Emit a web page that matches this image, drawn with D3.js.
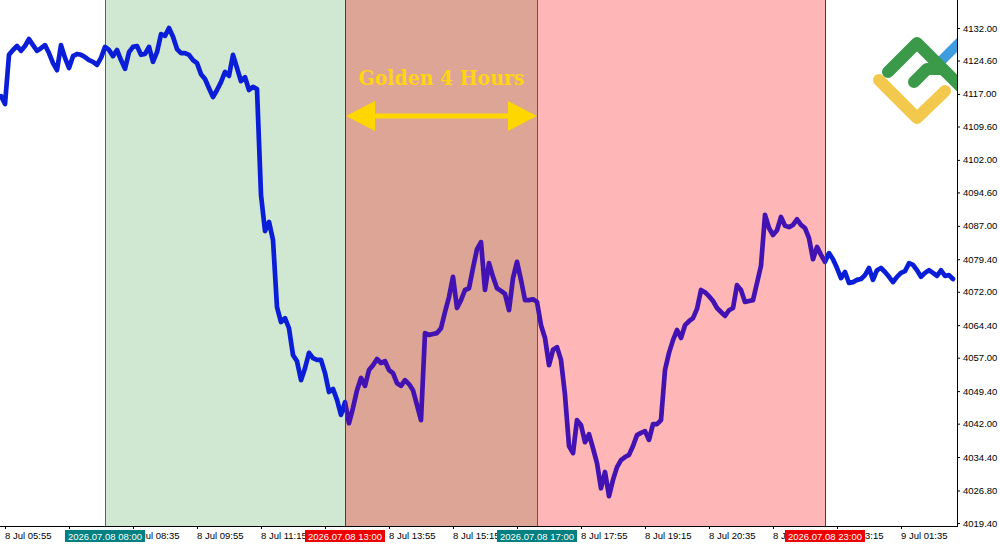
<!DOCTYPE html>
<html><head><meta charset="utf-8">
<script src="https://cdn.jsdelivr.net/npm/d3@7"></script>
<style>html,body{margin:0;padding:0;background:#fff;} svg{display:block;}</style>
</head><body><svg id="chart" width="1000" height="545"></svg>
<script>
// ---- data (M5 closes, bar index -1 = 8 Jul 05:50) ----
const firstBarIndex = -1;
const closes = [
4116.5,4114.7,4125.9,4127.0,4127.9,4126.8,4127.9,4129.5,4128.1,4126.8,
4127.4,4128.1,4126.3,4124.0,4122.4,4128.1,4125.2,4122.9,4125.6,4126.1,
4125.9,4125.4,4124.7,4124.3,4123.6,4125.2,4127.7,4127.0,4125.6,4127.0,
4124.7,4122.7,4126.5,4127.7,4127.9,4125.9,4126.1,4127.7,4124.3,4126.5,
4130.6,4130.2,4132.0,4130.0,4127.2,4126.3,4126.3,4125.9,4124.7,4124.0,
4121.5,4120.4,4118.3,4116.3,4117.9,4119.7,4122.0,4121.1,4125.9,4122.9,
4119.9,4120.8,4117.9,4118.6,4118.1,4094.0,4085.8,4087.9,4083.8,4068.5,
4065.1,4066.0,4063.7,4057.6,4056.2,4051.9,4054.6,4058.1,4056.9,4056.5,
4056.5,4053.5,4049.2,4049.9,4047.4,4044.0,4046.9,4042.1,4045.6,4049.6,
4052.4,4050.6,4054.2,4055.3,4056.7,4055.8,4056.2,4054.2,4053.5,4051.2,
4050.6,4051.9,4051.0,4049.6,4046.2,4042.8,4062.6,4062.2,4062.4,4062.6,
4063.7,4067.4,4070.8,4075.4,4068.3,4070.1,4072.4,4072.8,4077.4,4081.7,
4083.3,4072.4,4078.5,4075.4,4072.8,4072.2,4071.5,4067.8,4075.1,4078.8,
4074.7,4070.1,4070.1,4070.3,4069.7,4064.4,4061.5,4055.3,4058.8,4059.4,
4056.5,4048.5,4036.9,4035.3,4042.8,4041.7,4037.8,4039.6,4036.4,4033.0,
4027.3,4031.0,4025.5,4029.2,4032.1,4033.7,4034.4,4034.9,4036.9,4039.4,
4039.9,4040.3,4038.3,4041.9,4041.9,4042.8,4054.2,4058.1,4061.0,4063.3,
4061.5,4064.4,4065.3,4066.0,4068.1,4072.4,4071.9,4071.0,4069.9,4068.3,
4067.4,4066.5,4067.8,4068.3,4073.5,4072.4,4069.7,4069.9,4070.1,4074.0,
4077.9,4089.5,4086.5,4084.9,4086.0,4089.0,4087.0,4086.7,4087.2,4088.5,
4087.2,4086.5,4084.2,4079.4,4082.2,4080.4,4078.8,4080.8,4079.4,4077.4,
4075.1,4076.5,4074.0,4074.2,4074.7,4074.9,4075.8,4077.4,4074.7,4076.9,
4077.4,4076.5,4075.4,4074.2,4075.4,4076.3,4076.7,4078.5,4078.1,4076.9,
4075.4,4076.3,4076.9,4076.3,4075.6,4076.9,4075.6,4075.8,4074.9
];
const tickIndex = [0,16,32,48,64,80,96,112,128,144,160,176,192,208,224];
const tickLabels = ["8 Jul 05:55","8 Jul 07:15","8 Jul 08:35","8 Jul 09:55","8 Jul 11:15",
  "8 Jul 12:35","8 Jul 13:55","8 Jul 15:15","8 Jul 16:35","8 Jul 17:55","8 Jul 19:15",
  "8 Jul 20:35","8 Jul 21:55","8 Jul 23:15","9 Jul 01:35"];
const yTicks = [4132.00,4124.60,4117.00,4109.60,4102.00,4094.60,4087.00,4079.40,
  4072.00,4064.40,4057.00,4049.40,4042.00,4034.40,4026.80,4019.40];
const eventIndex = [25,85,133,205];
const eventLabels = ["2026.07.08 08:00","2026.07.08 13:00","2026.07.08 17:00","2026.07.08 23:00"];
const eventColors = ["#008080","#ee0000","#008080","#ee0000"];
const greenSession = [25,133];
const redSession = [85,205];
const goldenWindow = [85,133];
const annotation = "Golden 4 Hours";

// ---- layout ----
const W = 1000, H = 545, plotR = 957, plotB = 526;
const svg = d3.select("#chart");
const x = d3.scaleLinear().domain([0, 237]).range([5, 953]);
const y = d3.scaleLinear().domain([4019.4, 4132]).range([523, 28]);
const data = closes.map((v,i)=>({k:i+firstBarIndex, v}));

svg.append("rect").attr("width",W).attr("height",H).attr("fill","#fff");
const defs = svg.append("defs");
defs.append("clipPath").attr("id","plot").append("rect").attr("x",0).attr("y",0).attr("width",plotR).attr("height",plotB);
defs.append("clipPath").attr("id","inside").append("rect").attr("x",x(redSession[0])).attr("y",0).attr("width",x(redSession[1])-x(redSession[0])).attr("height",plotB);
const outClip = defs.append("clipPath").attr("id","outside");
outClip.append("rect").attr("x",0).attr("y",0).attr("width",x(redSession[0])).attr("height",plotB);
outClip.append("rect").attr("x",x(redSession[1])).attr("y",0).attr("width",plotR-x(redSession[1])).attr("height",plotB);

const g = svg.append("g").attr("clip-path","url(#plot)");
// green session
g.append("rect").attr("x",x(greenSession[0])).attr("y",0)
  .attr("width",x(greenSession[1])-x(greenSession[0])).attr("height",plotB).attr("fill","#d0e7d2");
greenSession.forEach(k=>{
  g.append("line").attr("x1",x(k)+0.5).attr("x2",x(k)+0.5).attr("y1",0).attr("y2",plotB)
   .attr("stroke","#2a7a62").attr("stroke-width",1);
});
// red session overlay
g.append("rect").attr("x",x(redSession[0])).attr("y",0)
  .attr("width",x(redSession[1])-x(redSession[0])).attr("height",plotB).attr("fill","rgba(255,0,0,0.286)");

const line = d3.line().x(d=>x(d.k)).y(d=>y(d.v));
g.append("path").datum(data).attr("d",line).attr("fill","none").attr("stroke","#0a1ed8")
  .attr("stroke-width",4.7).attr("stroke-linejoin","round").attr("stroke-linecap","round")
  .attr("clip-path","url(#outside)");
g.append("path").datum(data).attr("d",line).attr("fill","none").attr("stroke","#4212b2")
  .attr("stroke-width",4.7).attr("stroke-linejoin","round").attr("stroke-linecap","round")
  .attr("clip-path","url(#inside)");

redSession.forEach(k=>{
  g.append("line").attr("x1",x(k)+0.5).attr("x2",x(k)+0.5).attr("y1",0).attr("y2",plotB)
   .attr("stroke","#d80000").attr("stroke-width",1);
});

// annotation
const gold = "#ffd700";
const ax0 = x(goldenWindow[0])+1, ax1 = x(goldenWindow[1]);
const cx = (ax0+ax1)/2;
g.append("text").attr("x",cx).attr("y",84.5).attr("text-anchor","middle")
  .attr("font-family","'DejaVu Serif', serif").attr("font-weight","bold").attr("font-size",20)
  .attr("textLength",166).attr("lengthAdjust","spacingAndGlyphs")
  .attr("fill","#ffd414").text(annotation);
const ay = 116, hl = 29, hh = 15;
g.append("line").attr("x1",ax0+hl-2).attr("x2",ax1-hl+2).attr("y1",ay).attr("y2",ay)
  .attr("stroke",gold).attr("stroke-width",5);
g.append("path").attr("d",`M${ax0},${ay}L${ax0+hl},${ay-hh}L${ax0+hl},${ay+hh}Z`).attr("fill",gold);
g.append("path").attr("d",`M${ax1},${ay}L${ax1-hl},${ay-hh}L${ax1-hl},${ay+hh}Z`).attr("fill",gold);

// logo
const logo = g.append("g").attr("fill","none").attr("stroke-linecap","round").attr("stroke-linejoin","round");
logo.append("path").attr("d","M935,67L962,40").attr("stroke","#3f9ce0").attr("stroke-width",10);
logo.append("path").attr("d","M888,72L917,43L960,86").attr("stroke","#3b9a4a").attr("stroke-width",12);
logo.append("path").attr("d","M914,82L927,69L942,69").attr("stroke","#3b9a4a").attr("stroke-width",12);
logo.append("path").attr("d","M879,80L917,118L945,91").attr("stroke","#f2c94c").attr("stroke-width",12);

// axes
const font = "'Liberation Sans', Arial, sans-serif";
svg.append("line").attr("x1",plotR+0.5).attr("x2",plotR+0.5).attr("y1",0).attr("y2",plotB+1).attr("stroke","#000");
svg.append("line").attr("x1",0).attr("x2",plotR+1).attr("y1",plotB+0.5).attr("y2",plotB+0.5).attr("stroke","#000");

const yAxis = svg.append("g").attr("transform",`translate(${plotR},0)`)
  .call(d3.axisRight(y).tickValues(yTicks).tickFormat(d3.format(".2f")).tickSize(3).tickPadding(3));
yAxis.select(".domain").remove();
yAxis.selectAll("text").attr("font-family",font).attr("font-size","9.5px").attr("fill","#000");

// labels fully covered by an event box are not visible in the reference
const boxHalf = 40;
const isCovered = (k, lbl) => eventIndex.some(e => x(k) >= x(e)-boxHalf && x(k) + lbl.length*4.3 <= x(e)+boxHalf);
const xAxis = svg.append("g").attr("transform",`translate(0,${plotB})`)
  .call(d3.axisBottom(x).tickValues(tickIndex)
    .tickFormat((d,i)=> isCovered(d, tickLabels[i]) ? "" : tickLabels[i]).tickSize(3).tickPadding(3));
xAxis.select(".domain").remove();
xAxis.selectAll("text").attr("font-family",font).attr("font-size","9.5px").attr("fill","#000")
  .attr("text-anchor","start").attr("x",-0.5);

// event labels
eventIndex.forEach((k,i)=>{
  const ex = x(k);
  svg.append("rect").attr("x",ex-boxHalf).attr("y",530).attr("width",boxHalf*2).attr("height",12).attr("fill",eventColors[i]);
  svg.append("text").attr("x",ex).attr("y",539.5).attr("text-anchor","middle")
    .attr("font-family",font).attr("font-size","9.5px").attr("fill","#fff").text(eventLabels[i]);
});
</script></body></html>
